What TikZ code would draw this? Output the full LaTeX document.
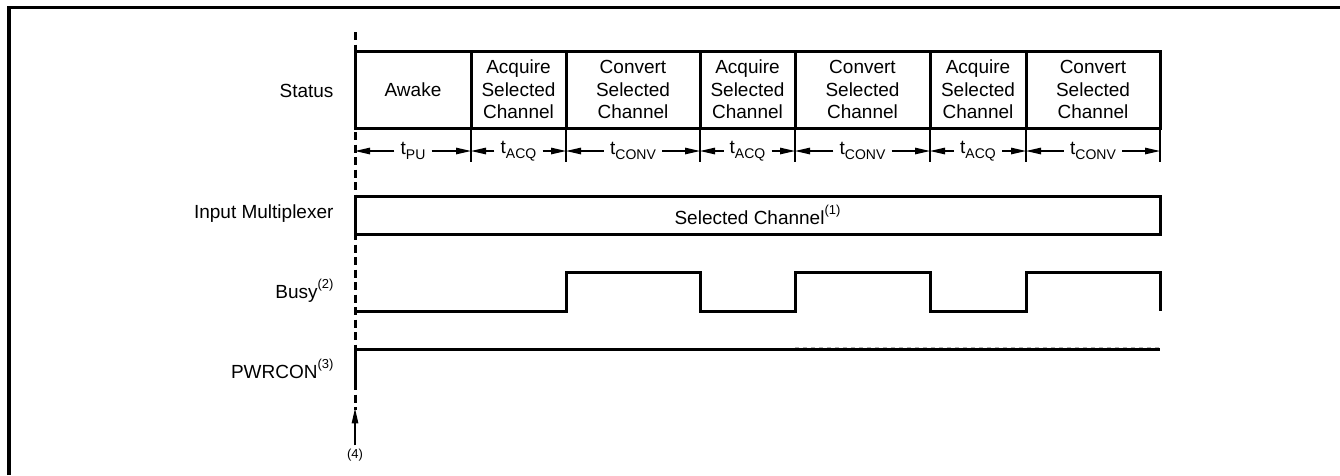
\documentclass[tikz,border=0pt]{standalone}
\usepackage{fontspec}
\setmainfont{Liberation Sans}
\usetikzlibrary{arrows.meta}
\newcommand{\acqlbl}{Acquire\\Selected\\Channel}
\newcommand{\convlbl}{Convert\\Selected\\Channel}
\newcommand{\lowtxt}[1]{\raisebox{-0.25em}{\fontsize{14}{14}\selectfont #1}}
\newcommand{\uptxt}[1]{\raisebox{0.55em}{\fontsize{13}{13}\selectfont #1}}

\begin{document}
\begin{tikzpicture}[x=1pt, y=-1pt,
    txt/.style={font=\fontsize{19}{22.7}\selectfont, text=black},
    cell/.style={txt, draw, line width=3pt, inner sep=0pt, outer sep=0pt, align=center},
    sig/.style={line width=3pt},
    tick/.style={line width=1.1pt},
    dim/.style={line width=1.2pt, -{Triangle[length=15pt, width=6.5pt]}}]
    \useasboundingbox (0,0) rectangle (1340,475);
    % frame
    \draw[line width=3.2pt] (9,475) -- (9,7.5) -- (1340,7.5);
    % row labels
    \node[txt, anchor=east] (status) at (337,91) {Status};
    \node[txt, anchor=east] (muxlbl) at (337,214) {Input Multiplexer};
    \node[txt, anchor=east] (busylbl) at (337,291) {Busy\uptxt{(2)}};
    \node[txt, anchor=east] (pwrlbl) at (337,369) {PWRCON\uptxt{(3)}};
    % status cells and timing
    \foreach \a/\b/\lbl/\sub [count=\i] in {355/471/Awake/PU, 471/566/\acqlbl/ACQ,
        566/700/\convlbl/CONV, 700/795/\acqlbl/ACQ, 795/930/\convlbl/CONV,
        930/1026/\acqlbl/ACQ, 1026/1160/\convlbl/CONV} {
        \node[cell, minimum width={(\b-\a)*1pt}, minimum height=77pt]
            (s\i) at ({(\a+\b)/2},89.5) {\lbl};
        \node[txt, inner sep=6pt] (t\i) at ({(\a+\b)/2},151) {t\lowtxt{\sub}};
        \draw[tick] (s\i.south east) -- ++(0,34);
        \draw[dim] (t\i.west) -- (s\i.west |- t\i.west);
        \draw[dim] (t\i.east) -- (s\i.east |- t\i.east);
    }
    % input multiplexer
    \node[cell, minimum width=805pt, minimum height=38pt] (mux) at (757.5,215)
        {Selected Channel\uptxt{(1)}};
    % busy
    \coordinate (lo) at (0,311);
    \coordinate (hi) at (0,272);
    \draw[sig] (s1.west |- lo) -- (s3.west |- lo) -- (s3.west |- hi) -- (s3.east |- hi)
        -- (s3.east |- lo) -- (s5.west |- lo) -- (s5.west |- hi) -- (s5.east |- hi)
        -- (s5.east |- lo) -- (s7.west |- lo) -- (s7.west |- hi) -- (s7.east |- hi)
        -- (s7.east |- lo);
    % pwrcon
    \coordinate (pwr) at (0,349);
    \draw[sig] (355,387) -- (s1.west |- pwr) -- (s7.east |- pwr);
    \draw[gray!60, line width=1pt, dash pattern=on 4pt off 4pt]
        ([yshift=1.8pt]s5.west |- pwr) -- ([yshift=1.8pt]s7.east |- pwr);
    % wake-up marker
    \draw[line width=3pt, dash pattern=on 8pt off 4.5pt] (355,32) -- (355,410);
    \node[font=\fontsize{13}{15}\selectfont, text=black] (note) at (355,455) {(4)};
    \draw[line width=1.2pt, -{Triangle[length=15pt, width=6.5pt]}] (note.north) -- ++(0,-37);
\end{tikzpicture}
\end{document}
